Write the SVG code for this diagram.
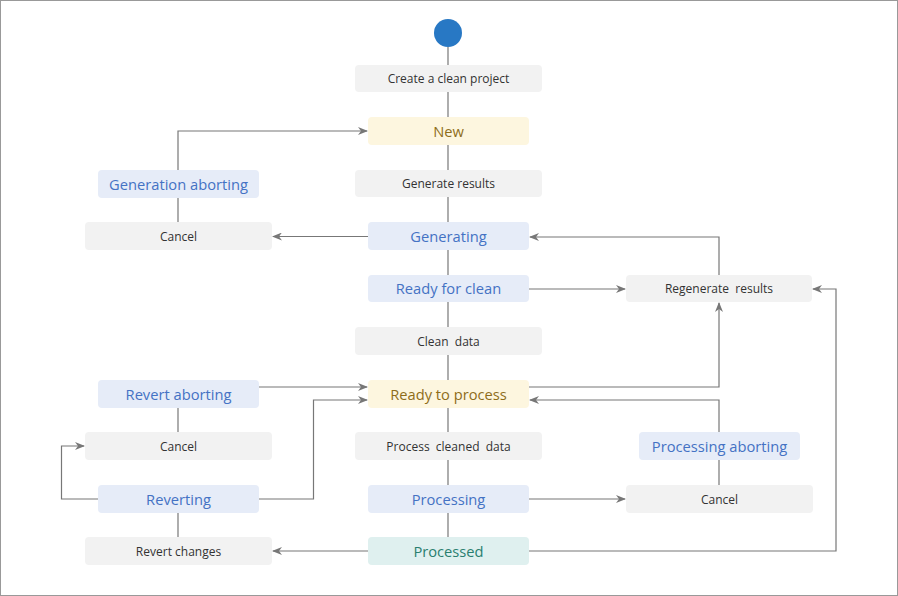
<svg xmlns="http://www.w3.org/2000/svg" width="898" height="596" viewBox="0 0 898 596">
<style>
.a{fill:#f2f2f2}
.b{fill:#e6ecf8}
.y{fill:#fdf6df}
.g{fill:#dff0ef}
.ta{font-family:"Open Sans","Liberation Sans",sans-serif;font-size:12px;fill:#333;text-anchor:middle}
.ts{font-family:"Open Sans","Liberation Sans",sans-serif;font-size:14.7px;text-anchor:middle}
.tb{fill:#4472c4}
.ty{fill:#8e6d1a}
.tg{fill:#2a7f6f}
.c{fill:none;stroke:#777;stroke-width:1.2}
.ca{fill:none;stroke:#777;stroke-width:1.2;marker-end:url(#ar)}
</style>
<defs>
<marker id="ar" viewBox="0 0 10 8" refX="9" refY="4" markerWidth="10" markerHeight="8" markerUnits="userSpaceOnUse" orient="auto">
<path d="M0,0 L10,4 L0,8 L3,4 z" fill="#777"/>
</marker>
</defs>
<rect x="0.5" y="0.5" width="897" height="595" fill="#fff" stroke="#999"/>
<g id="connectors">
<path class="c" d="M448,47 V537"/>
<path class="ca" d="M178,170 V131 H367"/>
<path class="c" d="M178,198 V222"/>
<path class="ca" d="M368,236.5 H273"/>
<path class="ca" d="M719,275 V237 H530"/>
<path class="ca" d="M529,289 H625"/>
<path class="ca" d="M529,387 H719 V303"/>
<path class="ca" d="M719,432 V400 H530"/>
<path class="c" d="M719,460 V485"/>
<path class="ca" d="M529,499 H625"/>
<path class="ca" d="M529,551 H836 V289 H813"/>
<path class="ca" d="M368,551 H273"/>
<path class="ca" d="M259,387 H367"/>
<path class="ca" d="M259,499 H313.5 V400 H367"/>
<path class="c" d="M178,408 V432"/>
<path class="ca" d="M98,499 H61.5 V446 H84"/>
<path class="c" d="M178,513 V537"/>
</g>
<g id="start"><circle cx="448" cy="33" r="14" fill="#2878c4"/></g>
<g id="create"><rect class="a" x="355" y="65" width="187" height="27" rx="4"/><text class="ta" x="448.5" y="82.5">Create a clean project</text></g>
<g id="new"><rect class="y" x="368" y="117" width="161" height="28" rx="4"/><text class="ts ty" x="448.5" y="136.5">New</text></g>
<g id="generate"><rect class="a" x="355" y="170" width="187" height="27" rx="4"/><text class="ta" x="448.5" y="187.5">Generate results</text></g>
<g id="generating"><rect class="b" x="368" y="222" width="161" height="28" rx="4"/><text class="ts tb" x="448.5" y="241.5">Generating</text></g>
<g id="readyclean"><rect class="b" x="368" y="275" width="161" height="27" rx="4"/><text class="ts tb" x="448.5" y="294">Ready for clean</text></g>
<g id="regenerate"><rect class="a" x="626" y="275" width="186" height="27" rx="4"/><text class="ta" x="719" y="292.5" xml:space="preserve">Regenerate  results</text></g>
<g id="cleandata"><rect class="a" x="355" y="327" width="187" height="28" rx="4"/><text class="ta" x="448.5" y="345.5" xml:space="preserve">Clean  data</text></g>
<g id="readyprocess"><rect class="y" x="368" y="380" width="161" height="28" rx="4"/><text class="ts ty" x="448.5" y="399.5">Ready to process</text></g>
<g id="processcleaned"><rect class="a" x="355" y="432" width="187" height="28" rx="4"/><text class="ta" x="448.5" y="450.5" xml:space="preserve">Process  cleaned  data</text></g>
<g id="processing"><rect class="b" x="368" y="485" width="161" height="28" rx="4"/><text class="ts tb" x="448.5" y="504.5">Processing</text></g>
<g id="processed"><rect class="g" x="368" y="537" width="161" height="28" rx="4"/><text class="ts tg" x="448.5" y="556.5">Processed</text></g>
<g id="procaborting"><rect class="b" x="639" y="432" width="161" height="28" rx="4"/><text class="ts tb" x="719.5" y="451.5">Processing aborting</text></g>
<g id="cancel3"><rect class="a" x="626" y="485" width="187" height="28" rx="4"/><text class="ta" x="719.5" y="503.5">Cancel</text></g>
<g id="genaborting"><rect class="b" x="98" y="170" width="161" height="28" rx="4"/><text class="ts tb" x="178.5" y="189.5">Generation aborting</text></g>
<g id="cancel1"><rect class="a" x="85" y="222" width="187" height="28" rx="4"/><text class="ta" x="178.5" y="240.5">Cancel</text></g>
<g id="revaborting"><rect class="b" x="98" y="380" width="161" height="28" rx="4"/><text class="ts tb" x="178.5" y="399.5">Revert aborting</text></g>
<g id="cancel2"><rect class="a" x="85" y="432" width="187" height="28" rx="4"/><text class="ta" x="178.5" y="450.5">Cancel</text></g>
<g id="reverting"><rect class="b" x="98" y="485" width="161" height="28" rx="4"/><text class="ts tb" x="178.5" y="504.5">Reverting</text></g>
<g id="revertchanges"><rect class="a" x="85" y="537" width="187" height="28" rx="4"/><text class="ta" x="178.5" y="555.5">Revert changes</text></g>
</svg>
